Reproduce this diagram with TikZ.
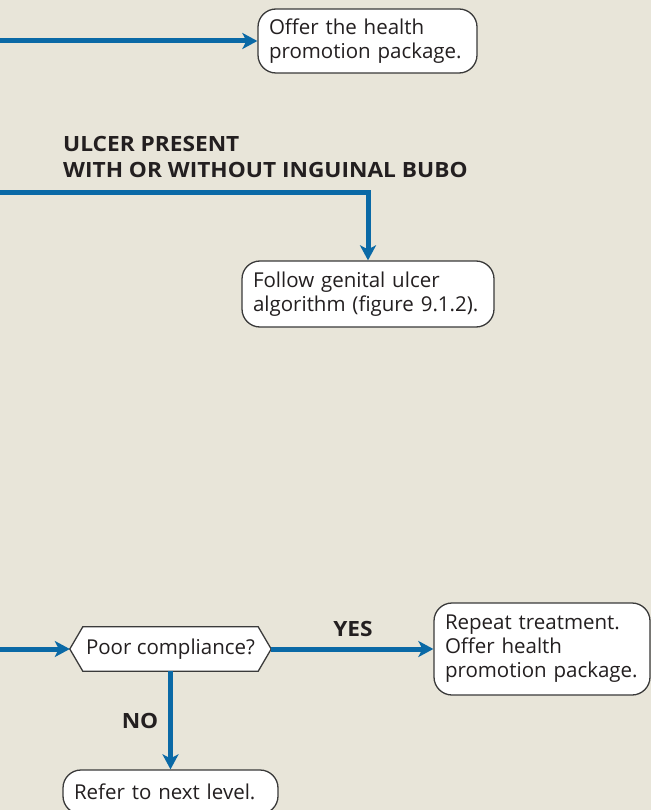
\documentclass[tikz,border=0pt]{standalone}
\usepackage{fontspec}
\setmainfont{Open Sans}
\newfontfamily\lblfont{Open Sans}[FakeStretch=1.08]
\usetikzlibrary{arrows.meta,backgrounds,calc}
\definecolor{bgbeige}{HTML}{E8E5D9}
\definecolor{flowblue}{HTML}{0A69A6}
\definecolor{boxline}{HTML}{3A3A3A}
\definecolor{txt}{HTML}{231F20}
\newcommand{\boxln}[1]{\mbox{#1}}
\begin{document}
\begin{tikzpicture}[x=1pt,y=-1pt,
  flow/.style={draw=flowblue, line width=5pt, -{Stealth[length=15pt,width=16pt,inset=4pt]}, line join=miter},
  msgbox/.style={draw=boxline, line width=1.3pt, fill=white, rounded corners=18pt, align=left, inner xsep=11pt, inner ysep=0pt, font=\fontsize{20.5}{24}\selectfont, text=txt},
  lbl/.style={font=\lblfont\fontsize{21}{25.5}\selectfont\bfseries, text=txt, align=left, inner sep=0pt},
  hexnode/.style={minimum width=201pt, minimum height=44pt, inner sep=0pt, font=\fontsize{20.5}{24}\selectfont, text=txt},
  hexshape/.style={draw=boxline, fill=white, line width=1.3pt}]
\useasboundingbox (0,0) rectangle (651,810);
\begin{scope}[on background layer]
  \fill[bgbeige] (0,0) rectangle (651,810);
\end{scope}

% nodes
\node[msgbox, text width=197pt, minimum height=64pt] (b1) at (367.5,41) {\boxln{Offer the health}\\\boxln{promotion package.}};
\node[lbl, anchor=west] (l1) at (63,157) {ULCER PRESENT\\WITH OR WITHOUT INGUINAL BUBO};
\node[msgbox, text width=230pt, minimum height=66pt] (b2) at (368,294) {\boxln{Follow genital ulcer}\\\boxln{algorithm (figure 9.1.2).}};
\node[hexnode] (h) at (170.5,649) {Poor compliance?};
\node[msgbox, text width=194pt, minimum height=92pt] (b3) at (542,649) {\boxln{Repeat treatment.}\\\boxln{Offer health}\\\boxln{promotion package.}};
\node[msgbox, text width=193pt, minimum height=44pt] (b4) at (170.5,792) {\boxln{Refer to next level.}};
\node[lbl] (yes) at (353,629) {YES};
\node[lbl] (no) at (140,721) {NO};

\begin{scope}[on background layer]
  \filldraw[hexshape] (h.west) -- ([xshift=13pt]h.north west) -- ([xshift=-13pt]h.north east) -- (h.east) -- ([xshift=-13pt]h.south east) -- ([xshift=13pt]h.south west) -- cycle;
\end{scope}

% connectors
\coordinate (s1) at (0,41);
\coordinate (s2) at (0,193);
\coordinate (s3) at (0,649);
\draw[flow] (s1) -- (b1.west);
\draw[flow] (s2) -| (b2.north);
\draw[flow] (s3) -- (h.west);
\draw[flow] (h.east) -- (b3.west);
\draw[flow] (h.south) -- (b4.north);
\end{tikzpicture}
\end{document}
